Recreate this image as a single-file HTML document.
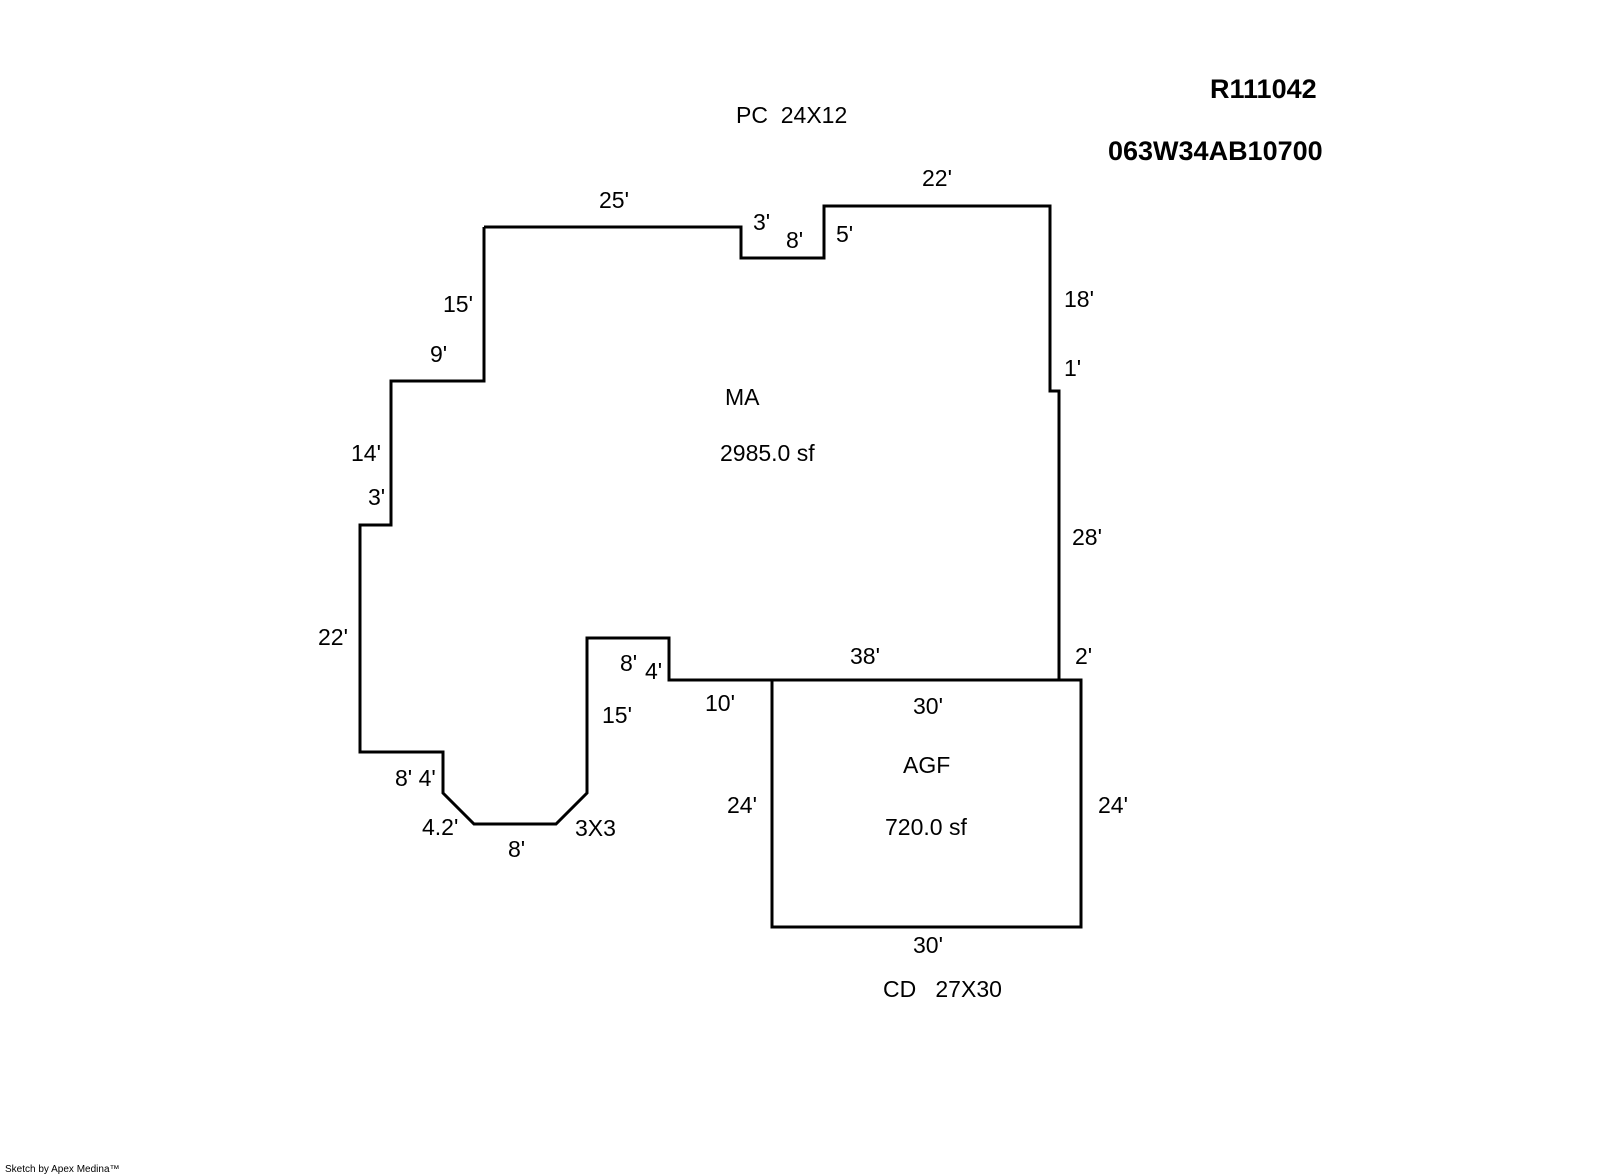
<!DOCTYPE html>
<html><head><meta charset="utf-8"><style>
html,body{margin:0;padding:0;background:#fff;}
svg{display:block;}
text{font-family:"Liberation Sans",Arial,sans-serif;font-size:23px;fill:#000;}
.b{font-weight:bold;font-size:27px;}
</style></head><body>
<svg width="1600" height="1174" viewBox="0 0 1600 1174" xmlns="http://www.w3.org/2000/svg">
<g fill="none" stroke="#000" stroke-width="3" stroke-linejoin="miter">
<polyline points="484,227 741,227 741,258 824,258 824,206 1050,206 1050,391 1059,391 1059,680 669,680 669,638 587,638 587,793 556,824 474,824 443,793 443,752 360,752 360,525 391,525 391,381 484,381 484,227"/>
<rect x="772" y="680" width="309" height="247"/>
</g>
<text class="b" x="1210" y="98">R111042</text>
<text class="b" x="1108" y="160">063W34AB10700</text>
<text x="736" y="123">PC&#160; 24X12</text>
<text x="599" y="208">25'</text>
<text x="753" y="230">3'</text>
<text x="786" y="248">8'</text>
<text x="836" y="242">5'</text>
<text x="922" y="186">22'</text>
<text x="1064" y="307">18'</text>
<text x="1064" y="376">1'</text>
<text x="443" y="312">15'</text>
<text x="430" y="362">9'</text>
<text x="725" y="405">MA</text>
<text x="720" y="461">2985.0 sf</text>
<text x="351" y="461">14'</text>
<text x="368" y="505">3'</text>
<text x="1072" y="545">28'</text>
<text x="318" y="645">22'</text>
<text x="620" y="671">8'</text>
<text x="645" y="679">4'</text>
<text x="850" y="664">38'</text>
<text x="1075" y="664">2'</text>
<text x="705" y="711">10'</text>
<text x="913" y="714">30'</text>
<text x="602" y="723">15'</text>
<text x="903" y="773">AGF</text>
<text x="395" y="786">8' 4'</text>
<text x="727" y="813">24'</text>
<text x="1098" y="813">24'</text>
<text x="422" y="835">4.2'</text>
<text x="575" y="836">3X3</text>
<text x="885" y="835">720.0 sf</text>
<text x="508" y="857">8'</text>
<text x="913" y="953">30'</text>
<text x="883" y="997">CD&#160;&#160; 27X30</text>
<text x="5" y="1172" style="font-size:10px">Sketch by Apex Medina™</text>
</svg>
</body></html>
